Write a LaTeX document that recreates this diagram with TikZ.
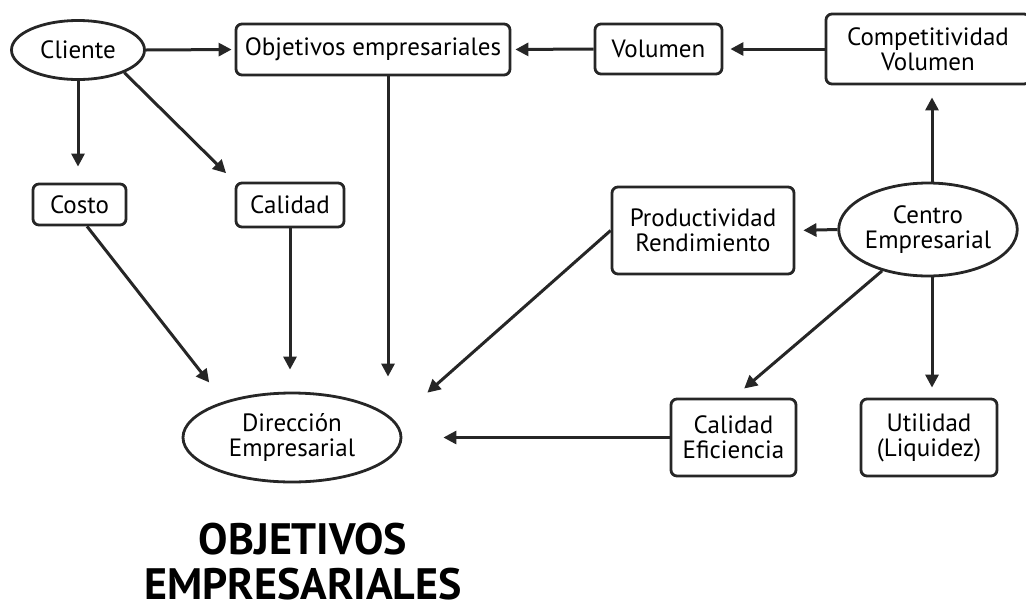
\documentclass[tikz,border=0pt]{standalone}
\usepackage{fontspec}
\setmainfont{PT Sans}
\usetikzlibrary{shapes.geometric,arrows.meta}
\begin{document}
\begin{tikzpicture}[x=1pt,y=-1pt,
  lbl/.style={align=center, inner sep=0pt, font=\fontsize{25}{25}\selectfont},
  box/.style={lbl, draw=black!85, line width=2.8pt, rounded corners=6pt},
  oval/.style={lbl, ellipse, draw=black!85, line width=2.8pt},
  arr/.style={draw=black!85, line width=3pt, -{Triangle[length=13pt,width=13pt]}}]
\path[use as bounding box] (0,0) rectangle (1026,614);
% nodes
\node[oval, minimum width=133pt, minimum height=59pt] (cli) at (78,50) {Cliente};
\node[box, minimum width=274pt, minimum height=51pt] (obj) at (373,49.5) {Objetivos empresariales};
\node[box, minimum width=127pt, minimum height=50pt] (vol) at (658.5,49) {Volumen};
\node[box, minimum width=204pt, minimum height=70pt] (comp) at (928,49) {Competitividad\\Volumen};
\node[box, minimum width=93pt, minimum height=41pt] (costo) at (79.5,204.5) {Costo};
\node[box, minimum width=108pt, minimum height=44pt] (cal) at (290,205) {Calidad};
\node[box, minimum width=182pt, minimum height=87pt] (prod) at (703,230.5) {Productividad\\Rendimiento};
\node[oval, minimum width=178pt, minimum height=93pt] (centro) at (928,229.5) {Centro\\Empresarial};
\node[oval, minimum width=218pt, minimum height=89pt] (dir) at (292,437.5) {Dirección\\Empresarial};
\node[box, minimum width=125pt, minimum height=77pt] (calef) at (733.5,437.5) {Calidad\\Eficiencia};
\node[box, minimum width=136pt, minimum height=77pt] (util) at (929,437.5) {Utilidad\\(Liquidez)};
\node[align=center, inner sep=0pt, font=\fontsize{44}{45}\selectfont\bfseries] (title) at (303,562) {OBJETIVOS\\EMPRESARIALES};
% connectors
\draw[arr, shorten >=3pt] (cli.east) -- (obj.west);
\draw[arr, shorten >=16pt] (cli.south) -- (cli.south |- costo.north);
\draw[arr, shorten >=12pt] (cli.-26) -- (cal.north west);
\draw[arr, shorten >=15pt] ([xshift=15pt]obj.south) -- ([xshift=15pt]obj.south |- dir.north);
\draw[arr, shorten >=4pt] (vol.west) -- (obj.east);
\draw[arr, shorten >=7pt] (comp.west) -- (vol.east);
\draw[arr, shorten >=12pt] ([xshift=4pt]centro.north) -- ([xshift=4pt]centro.north |- comp.south);
\draw[arr, shorten >=8pt] (centro.west) -- (prod.east);
\draw[arr, shorten >=43pt] (prod.west) -- (dir.9);
\draw[arr, shorten >=14pt] (centro.222) -- (calef.north);
\draw[arr, shorten >=10pt] ([xshift=4pt]centro.south) -- ([xshift=4pt]centro.south |- util.north);
\draw[arr, shorten >=41pt] (calef.west) -- (dir.east);
\draw[arr, shorten >=24pt] (costo.-71) -- (dir.152);
\draw[arr, shorten >=22pt] (cal.south) -- (cal.south |- dir.north);
\end{tikzpicture}
\end{document}
